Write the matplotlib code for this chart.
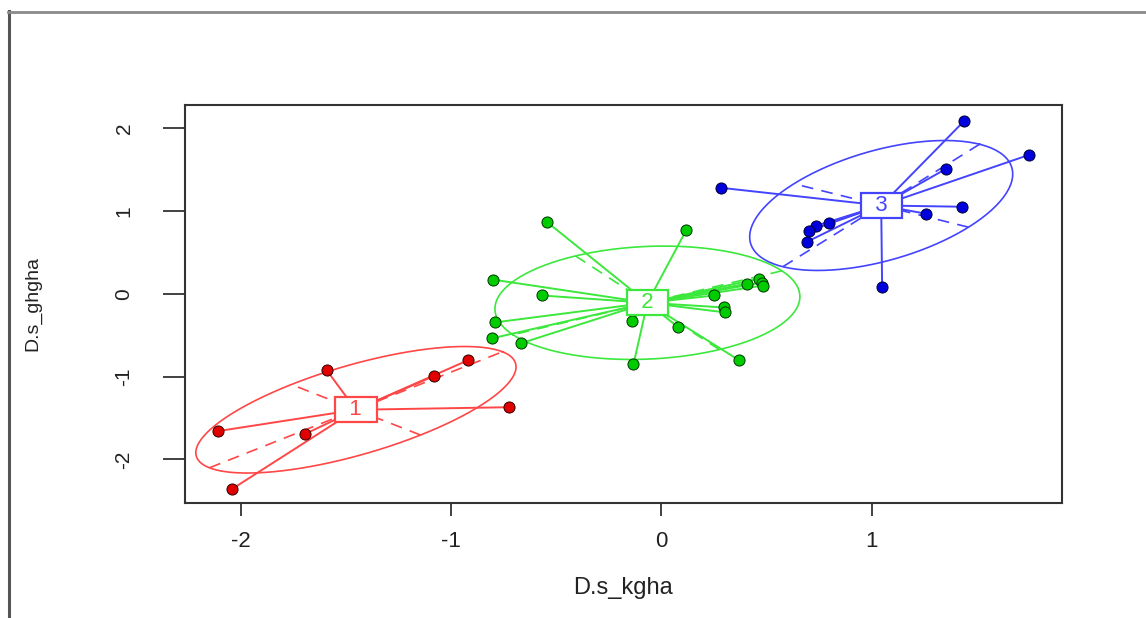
import numpy as np
import matplotlib
matplotlib.use("Agg")
import matplotlib.pyplot as plt
from matplotlib.lines import Line2D

# cluster members (D.s_kgha, D.s_ghgha)
red_x = [-2.108, -2.040, -1.694, -1.590, -1.082, -0.920, -0.725]
red_y = [-1.659, -2.358, -1.695, -0.924, -0.996, -0.804, -1.370]

green_x = [-0.545, 0.120, -0.801, -0.569, -0.792, -0.806, -0.669, -0.141, -0.132,
           0.082, 0.371, 0.253, 0.300, 0.305, 0.409, 0.466, 0.480, 0.485]
green_y = [0.871, 0.775, 0.172, -0.020, -0.346, -0.539, -0.599, -0.334, -0.852,
           -0.406, -0.804, -0.020, -0.165, -0.225, 0.124, 0.184, 0.136, 0.100]

blue_x = [1.440, 1.748, 0.286, 1.354, 1.430, 1.259, 0.799, 0.737, 0.704, 0.694, 1.050]
blue_y = [2.088, 1.678, 1.280, 1.510, 1.052, 0.967, 0.859, 0.823, 0.763, 0.630, 0.088]

labels = ["1", "2", "3"]
xticks = [-2, -1, 0, 1]
yticks = [-2, -1, 0, 1, 2]

groups = [(red_x, red_y), (green_x, green_y), (blue_x, blue_y)]
line_cols = ["#ff4747", "#3be83b", "#4444ff"]
pt_cols = ["#e00000", "#00cc00", "#0000dd"]
pt_edges = ["#300000", "#003300", "#000033"]

plt.rcParams["font.family"] = ["Liberation Sans", "DejaVu Sans"]

fig = plt.figure(figsize=(11.46, 6.18), dpi=100)
ax = fig.add_axes([0.1614, 0.1861, 0.7653, 0.644])

coeff = 1.5  # like ade4 s.class cellipse
t = np.linspace(0, 2 * np.pi, 200)
for (gx, gy), lab, lc, pc, pe in zip(groups, labels, line_cols, pt_cols, pt_edges):
    gx = np.array(gx)
    gy = np.array(gy)
    mx, my = gx.mean(), gy.mean()
    cov = np.cov(np.vstack([gx, gy]), bias=True)
    vals, vecs = np.linalg.eigh(cov)
    order = vals.argsort()[::-1]
    vals, vecs = vals[order], vecs[:, order]
    a = coeff * np.sqrt(vals[0]) * vecs[:, 0]
    b = coeff * np.sqrt(vals[1]) * vecs[:, 1]
    ex = mx + a[0] * np.cos(t) + b[0] * np.sin(t)
    ey = my + a[1] * np.cos(t) + b[1] * np.sin(t)
    ax.plot(ex, ey, color=lc, lw=1.2, zorder=2)
    # ellipse axes, dashed
    for v in (a, b):
        ax.plot([mx - v[0], mx + v[0]], [my - v[1], my + v[1]], color=lc, lw=1.2,
                dashes=(7, 5), zorder=2)
    # spokes
    for px, py in zip(gx, gy):
        ax.plot([mx, px], [my, py], color=lc, lw=1.4, zorder=3)
    ax.plot(gx, gy, "o", ms=8, mfc=pc, mec=pe, mew=0.7, zorder=4, ls="none")
    ax.text(mx, my, "  " + lab + "  ", ha="center", va="center", color=lc,
            fontsize=16, zorder=6,
            bbox=dict(boxstyle="square,pad=0.1", fc="white", ec=lc, lw=1.6))

ax.set_xlim(-2.264, 1.905)
ax.set_ylim(-2.527, 2.281)
ax.set_xticks(xticks)
ax.set_yticks(yticks)
ax.set_xticklabels([str(v) for v in xticks])
ax.set_yticklabels([str(v) for v in yticks], rotation=90, va="center")
ax.tick_params(axis="x", length=9, width=1.3, color="#333333", labelcolor="#222222",
               pad=11, labelsize=16)
ax.tick_params(axis="y", length=16, width=1.3, color="#333333", labelcolor="#222222",
               pad=21, labelsize=15)
for s in ax.spines.values():
    s.set_linewidth(1.5)
    s.set_color("#333333")

ax.set_xlabel("D.s_kgha", fontsize=17, color="#222222", va="center")
ax.xaxis.set_label_coords(0.5, -0.2136)
ax.set_ylabel("D.s_ghgha", fontsize=14, color="#222222", va="center")
ax.yaxis.set_label_coords(-0.1733, 0.5)

# outer frame of the screenshot
fig.add_artist(Line2D([8.5 / 1146, 8.5 / 1146], [0, 1 - 11 / 618],
                      transform=fig.transFigure, color="#555555", lw=2.2))
fig.add_artist(Line2D([8 / 1146, 1], [1 - 11.5 / 618, 1 - 11.5 / 618],
                      transform=fig.transFigure, color="#8a8a8a", lw=2.0))

fig.savefig("out.png", dpi=100)
